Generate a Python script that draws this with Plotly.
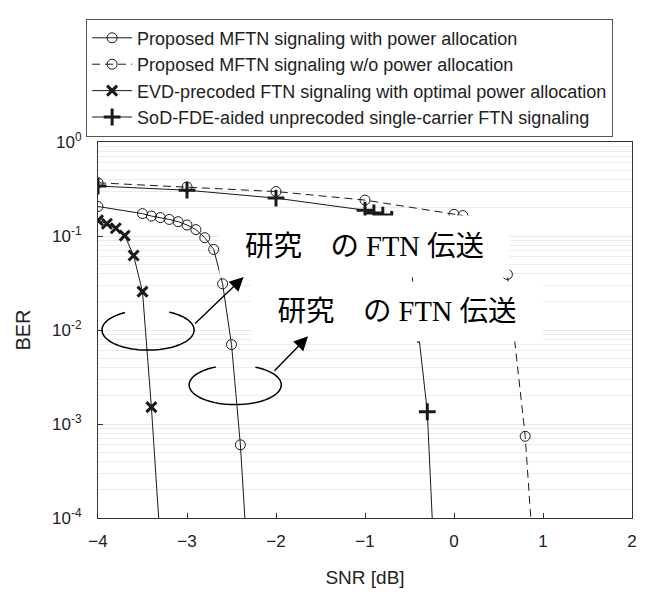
import numpy as np
import plotly.graph_objects as go

# ---- data ----
snr_pa = [-4.0, -3.5, -3.4, -3.3, -3.2, -3.1, -3.0, -2.9, -2.8, -2.7, -2.6, -2.5, -2.4, -2.3]
ber_pa = [0.206, 0.173, 0.163, 0.157, 0.150, 0.142, 0.131, 0.117, 0.096, 0.072, 0.031, 0.0070, 6.0e-4, 1.7e-5]

snr_wo = [-4.0, -3.0, -2.0, -1.0, 0.0, 0.1, 0.6, 0.8, 0.9]
ber_wo = [0.368, 0.332, 0.297, 0.241, 0.170, 0.165, 0.039, 7.4e-4, 3.0e-5]

snr_evd = [-4.0, -3.9, -3.8, -3.7, -3.6, -3.5, -3.4, -3.3]
ber_evd = [0.147, 0.135, 0.121, 0.101, 0.062, 0.0256, 0.00151, 5.5e-5]

snr_sod = [-4.0, -3.0, -2.0, -1.0, -0.9, -0.8, -0.7, -0.6, -0.5, -0.4, -0.3, -0.2]
ber_sod = [0.340, 0.307, 0.253, 0.188, 0.176, 0.167, 0.150, 0.120, 0.067, 0.009, 0.00135, 1.2e-5]

names = [
    "Proposed MFTN signaling with power allocation",
    "Proposed MFTN signaling w/o power allocation",
    "EVD-precoded FTN signaling with optimal power allocation",
    "SoD-FDE-aided unprecoded single-carrier FTN signaling",
]

ytick_vals = [1, 0.1, 0.01, 0.001, 0.0001]
ytick_text = ["10<sup>0</sup>", "10<sup>-1</sup>", "10<sup>-2</sup>", "10<sup>-3</sup>", "10<sup>-4</sup>"]
xtick_vals = [-4, -3, -2, -1, 0, 1, 2]

label_text = "研究　の FTN 伝送"

# ---- layout geometry (pixels; page body adds an 8px offset) ----
OFF = 8
W, H = 648 - OFF, 596 - OFF
L, T = 98 - OFF, 133 - OFF
R = W - (637 - OFF)
B = H - (520 - OFF)
PW, PH = W - L - R, H - T - B


def px2paper(x, y):
    """reference-image pixel -> paper fraction"""
    return (x - OFF - L) / PW, (H - B - (y - OFF)) / PH


LINE = "#1a1a1a"
FONT = "Liberation Sans, Arial, sans-serif"

fig = go.Figure()
fig.add_trace(go.Scatter(
    x=snr_pa, y=ber_pa, name=names[0], mode="lines+markers",
    line=dict(color=LINE, width=1),
    marker=dict(symbol="circle-open", size=10, color=LINE, line=dict(width=1))))
fig.add_trace(go.Scatter(
    x=snr_wo, y=ber_wo, name=names[1], mode="lines+markers",
    line=dict(color=LINE, width=1, dash="8px,5px"),
    marker=dict(symbol="circle-open", size=10, color=LINE, line=dict(width=1))))
fig.add_trace(go.Scatter(
    x=snr_evd, y=ber_evd, name=names[2], mode="lines+markers",
    line=dict(color=LINE, width=1),
    marker=dict(symbol="x-thin-open", size=10, color=LINE, line=dict(width=3))))
fig.add_trace(go.Scatter(
    x=snr_sod, y=ber_sod, name=names[3], mode="lines+markers",
    line=dict(color=LINE, width=1),
    marker=dict(symbol="cross-thin-open", size=12, color=LINE, line=dict(width=3))))

# ---- decorations: broken ellipses ----
shapes = []
for (cx, cy, rx, ry, t0, t1) in [(148.5, 326.5, 46.5, 20.7, 120.0, 422.5),
                                  (236.5, 383.0, 46.5, 20.3, 115.0, 424.0)]:
    t = np.radians(np.linspace(t0, t1, 80))
    xs = cx + rx * np.cos(t)
    ys = cy - ry * np.sin(t)
    pts = [px2paper(a, b) for a, b in zip(xs, ys)]
    path = "M " + " L ".join(f"{p[0]:.5f},{p[1]:.5f}" for p in pts)
    shapes.append(dict(type="path", xref="paper", yref="paper", path=path,
                       line=dict(color="black", width=1.5), layer="above"))

annotations = []
# white label boxes
for (x0, x1, y0, y1) in [(222, 511, 210, 271), (255, 545, 278, 337)]:
    cxp, cyp = px2paper((x0 + x1) / 2, (y0 + y1) / 2)
    annotations.append(dict(
        x=cxp, y=cyp, xref="paper", yref="paper", xanchor="center", yanchor="middle",
        text=label_text, showarrow=False, bgcolor="white", borderpad=0,
        width=x1 - x0, height=y1 - y0, align="center", valign="middle",
        font=dict(family="Liberation Serif, 'Noto Sans CJK JP', serif", size=28.5, color="black")))
# arrows
for (tx, ty, sx, sy) in [(245, 272, 195, 320), (310, 333, 275, 369)]:
    xp, yp = px2paper(tx, ty)
    annotations.append(dict(
        x=xp, y=yp, xref="paper", yref="paper", text="", showarrow=True,
        ax=sx - tx, ay=sy - ty, arrowhead=2, arrowsize=2.0, arrowwidth=1.4,
        arrowcolor="black", standoff=0, startstandoff=0))

lx, ly = px2paper(86, 6)

fig.update_layout(
    width=W, height=H,
    margin=dict(l=L, r=R, t=T, b=B),
    paper_bgcolor="white", plot_bgcolor="white",
    font=dict(family=FONT, size=17, color="#222"),
    showlegend=True,
    legend=dict(x=lx, y=ly, xanchor="left", yanchor="top",
                bgcolor="white", bordercolor="#555", borderwidth=1,
                font=dict(family=FONT, size=18, color="#222"),
                tracegroupgap=0, itemwidth=40,
                entrywidth=500, entrywidthmode="pixels"),
    shapes=shapes,
    annotations=annotations,
    xaxis=dict(range=[-4, 2], tickvals=xtick_vals, ticks="inside", ticklen=5,
               tickcolor="#333", showline=True, linecolor="#333", linewidth=1,
               mirror=True, showgrid=False, zeroline=False,
               tickfont=dict(family=FONT, size=17, color="#222"),
               ticklabelstandoff=8,
               title=dict(text="SNR [dB]", font=dict(family=FONT, size=19, color="#222"), standoff=20)),
    yaxis=dict(type="log", range=[-4, 0], tickvals=ytick_vals, ticktext=ytick_text,
               ticks="inside", ticklen=5, tickcolor="#333",
               showline=True, linecolor="#333", linewidth=1, mirror=True,
               showgrid=True, gridcolor="#e8e8e8", gridwidth=1, zeroline=False,
               minor=dict(dtick="D1", showgrid=True, gridcolor="#ececec", gridwidth=1, ticks=""),
               tickfont=dict(family=FONT, size=17, color="#222"),
               ticklabelstandoff=12,
               title=dict(text="BER", font=dict(family=FONT, size=20, color="#222"), standoff=16)),
)

fig.write_html("out.html")
